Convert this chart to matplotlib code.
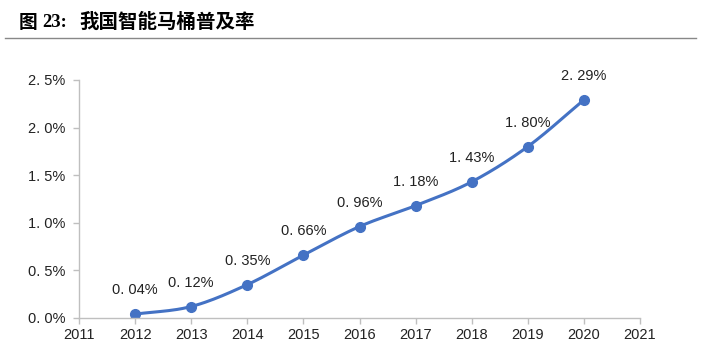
import numpy as np
import matplotlib
matplotlib.use("Agg")
import matplotlib.pyplot as plt
from matplotlib.lines import Line2D

plt.rcParams['font.family'] = ['Liberation Sans', 'Noto Sans CJK SC', 'DejaVu Sans']

years = [2012, 2013, 2014, 2015, 2016, 2017, 2018, 2019, 2020]
rate = [0.04, 0.12, 0.35, 0.66, 0.96, 1.18, 1.43, 1.80, 2.29]
labels = ["0. 04%", "0. 12%", "0. 35%", "0. 66%", "0. 96%", "1. 18%", "1. 43%", "1. 80%", "2. 29%"]
yticks = [0.0, 0.5, 1.0, 1.5, 2.0, 2.5]
ytick_labels = ["0. 0%", "0. 5%", "1. 0%", "1. 5%", "2. 0%", "2. 5%"]
xticks = list(range(2011, 2022))

blue = "#4472C4"
gray = "#BFBFBF"


def smooth(x, y, n=20):
    # Catmull-Rom style curve through the points (like Excel's smoothed line)
    x = np.asarray(x, float)
    y = np.asarray(y, float)
    px = np.concatenate([[2 * x[0] - x[1]], x, [2 * x[-1] - x[-2]]])
    py = np.concatenate([[2 * y[0] - y[1]], y, [2 * y[-1] - y[-2]]])
    xs, ys = [], []
    t = np.linspace(0, 1, n, endpoint=False)
    for i in range(1, len(px) - 2):
        for arr, out in ((px, xs), (py, ys)):
            p0, p1, p2, p3 = arr[i - 1], arr[i], arr[i + 1], arr[i + 2]
            m1 = (p2 - p0) / 2
            m2 = (p3 - p1) / 2
            h00 = 2 * t**3 - 3 * t**2 + 1
            h10 = t**3 - 2 * t**2 + t
            h01 = -2 * t**3 + 3 * t**2
            h11 = t**3 - t**2
            out.extend(h00 * p1 + h10 * m1 + h01 * p2 + h11 * m2)
    xs.append(x[-1])
    ys.append(y[-1])
    return np.array(xs), np.array(ys)


fig = plt.figure(figsize=(7.01, 3.49), dpi=100)
ax = fig.add_axes([0.1127, 0.089, 0.8003, 0.682])

sx, sy = smooth(years, rate)
ax.plot(sx, sy, color=blue, lw=2.2, solid_capstyle='round')
ax.plot(years, rate, 'o', color=blue, ms=7)

for x, y, s in zip(years, rate, labels):
    ax.annotate(s, (x, y), xytext=(0, 12), textcoords='offset points',
                ha='center', va='bottom', fontsize=10.5, color='#222222')

ax.set_xlim(2011, 2021)
ax.set_ylim(0, 2.5)
ax.set_xticks(xticks)
ax.set_xticklabels([str(v) for v in xticks], fontsize=10.5, color='#222222')
ax.set_yticks(yticks)
ax.set_yticklabels(ytick_labels, fontsize=10.5, color='#222222')

for side in ('top', 'right'):
    ax.spines[side].set_visible(False)
for side in ('left', 'bottom'):
    ax.spines[side].set_color(gray)
    ax.spines[side].set_linewidth(1.0)
ax.tick_params(axis='both', direction='out', length=4, color=gray, width=1.0)
ax.tick_params(axis='y', pad=6)
ax.tick_params(axis='x', pad=3)

# heading
fig.text(0.026, 0.935, "图", fontsize=13.5, fontweight='bold',
         family=['Noto Sans CJK SC'], va='center')
fig.text(0.060, 0.935, "23:", fontsize=13.5, fontweight='bold',
         family=['Liberation Serif'], va='center')
fig.text(0.113, 0.935, "我国智能马桶普及率", fontsize=14, fontweight='bold',
         family=['Noto Sans CJK SC'], va='center')
fig.add_artist(Line2D([0.007, 0.993], [0.891, 0.891], color='#888888', lw=1.0))

fig.savefig("out.png", dpi=100)
